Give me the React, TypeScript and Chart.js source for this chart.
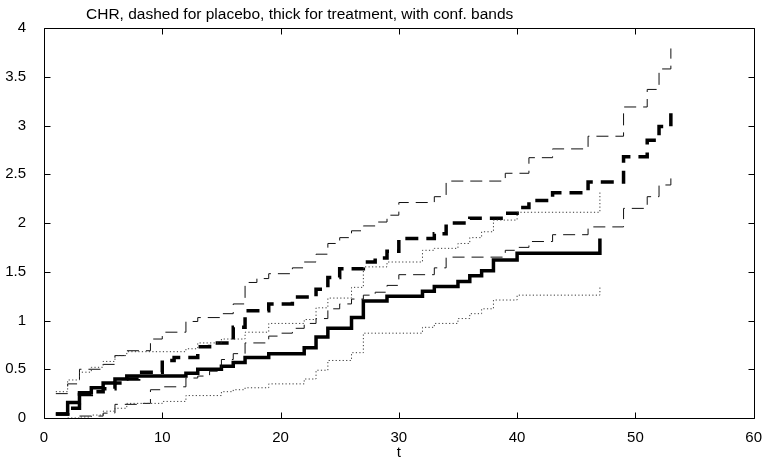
import React, { useEffect, useRef } from "react";
import { Chart, registerables } from "chart.js";

Chart.register(...registerables);

// Placebo cumulative hazard (thick dashed) and its confidence band (thin dashed)
const placeboTimes = [1, 2, 3, 4, 5, 6, 7, 8, 10, 11, 13, 14, 16, 17, 19, 21, 23, 24, 25, 27, 28, 29, 30, 33, 34, 36, 39, 40, 41, 43, 46, 49, 51, 52, 53];
const placeboCHR = [0.04, 0.10, 0.24, 0.27, 0.30, 0.36, 0.40, 0.47, 0.59, 0.62, 0.73, 0.77, 0.93, 1.10, 1.17, 1.24, 1.32, 1.44, 1.53, 1.60, 1.64, 1.71, 1.84, 1.89, 2.00, 2.05, 2.10, 2.16, 2.23, 2.31, 2.42, 2.68, 2.85, 2.99, 3.14];

const placeboUpperTimes = [1, 2, 3, 5, 6, 7, 9, 10, 12, 13, 15, 16, 17, 18, 19, 21, 22, 23, 24, 25, 26, 27, 28, 29, 30, 33, 34, 39, 41, 43, 46, 49, 51, 52, 53];
const placeboUpper = [0.25, 0.35, 0.50, 0.55, 0.64, 0.69, 0.81, 0.88, 0.99, 1.03, 1.07, 1.17, 1.39, 1.43, 1.48, 1.54, 1.60, 1.68, 1.79, 1.85, 1.92, 1.97, 2.01, 2.08, 2.21, 2.27, 2.43, 2.51, 2.67, 2.76, 2.89, 3.19, 3.37, 3.58, 3.79];

const placeboLowerTimes = [3, 5, 6, 8, 9, 10, 12, 13, 14, 15, 16, 17, 19, 20, 21, 22, 23, 24, 25, 26, 27, 28, 29, 30, 33, 34, 39, 40, 41, 43, 46, 49, 51, 52, 53];
const placeboLower = [0.02, 0.05, 0.14, 0.15, 0.29, 0.32, 0.41, 0.43, 0.48, 0.60, 0.66, 0.77, 0.84, 0.87, 0.92, 0.97, 1.02, 1.12, 1.17, 1.22, 1.26, 1.29, 1.36, 1.47, 1.54, 1.65, 1.72, 1.75, 1.81, 1.88, 1.96, 2.15, 2.27, 2.39, 2.51];

// Treatment cumulative hazard (thick solid) and its confidence band (dotted)
const treatTimes = [1, 2, 3, 4, 5, 6, 7, 12, 13, 15, 16, 17, 19, 22, 23, 24, 26, 27, 29, 32, 33, 35, 36, 37, 38, 40, 47];
const treatCHR = [0.04, 0.16, 0.26, 0.31, 0.36, 0.40, 0.43, 0.46, 0.50, 0.53, 0.57, 0.62, 0.66, 0.72, 0.83, 0.92, 1.03, 1.20, 1.25, 1.30, 1.35, 1.40, 1.46, 1.51, 1.62, 1.69, 1.84];

const treatUpperTimes = [1, 2, 3, 4, 5, 6, 7, 12, 13, 15, 17, 19, 22, 23, 24, 26, 27, 29, 32, 33, 35, 36, 37, 38, 40, 47];
const treatUpper = [0.27, 0.39, 0.47, 0.52, 0.58, 0.64, 0.68, 0.71, 0.77, 0.81, 0.88, 0.97, 1.01, 1.13, 1.23, 1.34, 1.55, 1.60, 1.72, 1.74, 1.79, 1.85, 1.91, 2.03, 2.11, 2.32];

const treatLowerTimes = [2, 3, 4, 5, 6, 7, 10, 12, 15, 16, 17, 19, 22, 23, 24, 26, 27, 32, 33, 35, 36, 37, 38, 40, 47];
const treatLower = [0.0, 0.01, 0.03, 0.07, 0.10, 0.15, 0.17, 0.23, 0.27, 0.29, 0.31, 0.35, 0.40, 0.49, 0.59, 0.67, 0.87, 0.93, 0.97, 1.02, 1.07, 1.12, 1.21, 1.26, 1.36];

const xTickValues = [0, 10, 20, 30, 40, 50, 60];
const yTickValues = [0, 0.5, 1, 1.5, 2, 2.5, 3, 3.5, 4];

const titleText = "CHR, dashed for placebo, thick for treatment, with conf. bands";
const xAxisTitle = "t";

const FONT = '"Liberation Sans", Arial, Helvetica, sans-serif';

function pts(times: number[], vals: number[]) {
  return times.map((t, i) => ({ x: t, y: vals[i] }));
}

const framePlugin = {
  id: "matlabFrame",
  afterDraw(chart: any) {
    const { ctx, chartArea: a, scales } = chart;
    ctx.save();
    ctx.strokeStyle = "#000";
    ctx.lineWidth = 1;
    const L = Math.round(a.left) + 0.5;
    const R = Math.round(a.right) + 0.5;
    const T = Math.round(a.top) + 0.5;
    const B = Math.round(a.bottom) + 0.5;
    ctx.beginPath();
    ctx.rect(L, T, R - L, B - T);
    const len = 6;
    for (const v of xTickValues) {
      const px = Math.round(scales.x.getPixelForValue(v)) + 0.5;
      ctx.moveTo(px, B);
      ctx.lineTo(px, B - len);
      ctx.moveTo(px, T);
      ctx.lineTo(px, T + len);
    }
    for (const v of yTickValues) {
      const py = Math.round(scales.y.getPixelForValue(v)) + 0.5;
      ctx.moveTo(L, py);
      ctx.lineTo(L + len, py);
      ctx.moveTo(R, py);
      ctx.lineTo(R - len, py);
    }
    ctx.stroke();
    // title
    ctx.fillStyle = "#000";
    ctx.font = `15.5px ${FONT}`;
    ctx.textAlign = "left";
    ctx.textBaseline = "alphabetic";
    ctx.fillText(titleText, a.left + 42, 19);
    ctx.restore();
  },
};

export default function App() {
  const ref = useRef<HTMLCanvasElement | null>(null);
  useEffect(() => {
    if (!ref.current) return;
    const thin = { pointRadius: 0, fill: false, stepped: "before" as const, tension: 0 };
    const chart = new Chart(ref.current, {
      type: "line",
      data: {
        datasets: [
          { ...thin, data: pts(treatLowerTimes, treatLower), borderColor: "#3a3a3a", borderWidth: 1, borderDash: [1.2, 2.3] },
          { ...thin, data: pts(treatUpperTimes, treatUpper), borderColor: "#3a3a3a", borderWidth: 1, borderDash: [1.2, 2.3] },
          { ...thin, data: pts(placeboLowerTimes, placeboLower), borderColor: "#111", borderWidth: 1, borderDash: [12, 7] },
          { ...thin, data: pts(placeboUpperTimes, placeboUpper), borderColor: "#111", borderWidth: 1, borderDash: [12, 7] },
          { ...thin, data: pts(treatTimes, treatCHR), borderColor: "#000", borderWidth: 3.5 },
          { ...thin, data: pts(placeboTimes, placeboCHR), borderColor: "#000", borderWidth: 3.5, borderDash: [13, 8] },
        ],
      },
      options: {
        responsive: false,
        animation: false,
        events: [],
        layout: { padding: { top: 28, right: 11, left: 0, bottom: 0 } },
        plugins: { legend: { display: false }, tooltip: { enabled: false }, title: { display: false } },
        scales: {
          x: {
            type: "linear",
            min: 0,
            max: 60,
            grid: { display: false },
            border: { display: false },
            afterFit: (s: any) => { s.height = 44; },
            afterBuildTicks: (s: any) => { s.ticks = xTickValues.map((v) => ({ value: v })); },
            ticks: { color: "#000", padding: 3, font: { family: FONT, size: 15 }, maxRotation: 0, callback: (v: any) => String(v) },
            title: { display: true, text: xAxisTitle, color: "#000", font: { family: FONT, size: 15 }, padding: { top: 0, bottom: 0 } },
          },
          y: {
            type: "linear",
            min: 0,
            max: 4,
            grid: { display: false },
            border: { display: false },
            afterFit: (s: any) => { s.width = 44; },
            afterBuildTicks: (s: any) => { s.ticks = yTickValues.map((v) => ({ value: v })); },
            ticks: { color: "#000", padding: 10, font: { family: FONT, size: 15 }, callback: (v: any) => String(v) },
          },
        },
      },
      plugins: [framePlugin],
    });
    return () => chart.destroy();
  }, []);
  return (
    <div style={{ position: "fixed", left: 0, top: 0, width: 765, height: 462, background: "#fff" }}>
      <canvas ref={ref} width={765} height={462} style={{ display: "block" }} />
    </div>
  );
}
